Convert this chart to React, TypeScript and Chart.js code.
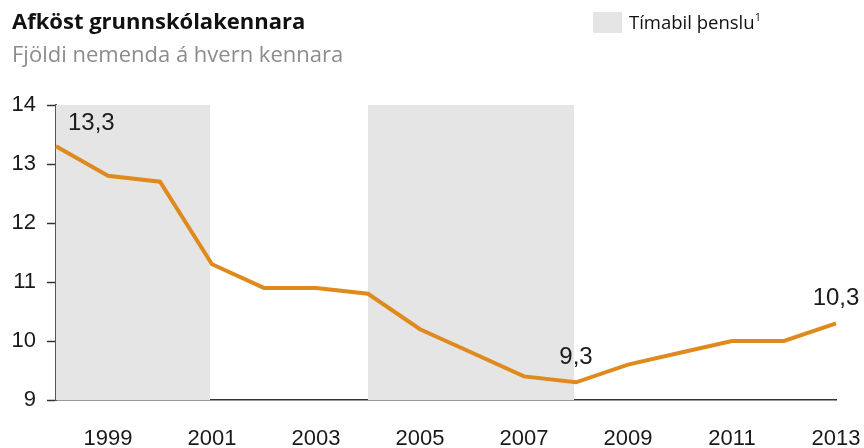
import React, { useEffect, useRef } from "react";
import { Chart, registerables } from "chart.js";

Chart.register(...registerables);

const years = ["1998","1999","2000","2001","2002","2003","2004","2005","2006","2007","2008","2009","2010","2011","2012","2013"];
const ratio = [13.3, 12.8, 12.7, 11.3, 10.9, 10.9, 10.8, 10.2, 9.8, 9.4, 9.3, 9.6, 9.8, 10.0, 10.0, 10.3];
const boomPeriods: [string, string][] = [["1998", "2001"], ["2004", "2008"]];
const labelledPoints = ["1998", "2008", "2013"];
const yTicks = [9, 10, 11, 12, 13, 14];

const TITLE = "Afköst grunnskólakennara";
const SUBTITLE = "Fjöldi nemenda á hvern kennara";
const LEGEND = "Tímabil þenslu";

const fmt = (v: number) => v.toFixed(1).replace(".", ",");
const NUM_FONT = "'Liberation Sans', Arial, sans-serif";

const bandsPlugin = {
  id: "bands",
  beforeDatasetsDraw(chart: any) {
    const { ctx, chartArea, scales } = chart;
    ctx.save();
    ctx.fillStyle = "#e5e5e5";
    boomPeriods.forEach(([a, b]) => {
      const x1 = scales.x.getPixelForValue(years.indexOf(a));
      const x2 = scales.x.getPixelForValue(years.indexOf(b)) - 2;
      ctx.fillRect(x1, chartArea.top, x2 - x1, chartArea.bottom - chartArea.top);
    });
    ctx.restore();
  },
};

const labelsPlugin = {
  id: "pointLabels",
  afterDatasetsDraw(chart: any) {
    const { ctx } = chart;
    const meta = chart.getDatasetMeta(0);
    ctx.save();
    ctx.font = `24px ${NUM_FONT}`;
    ctx.fillStyle = "#1a1a1a";
    ctx.textBaseline = "middle";
    labelledPoints.forEach((yr, k) => {
      const i = years.indexOf(yr);
      const el = meta.data[i];
      const text = fmt(ratio[i]);
      if (k === 0) {
        ctx.textAlign = "left";
        ctx.fillText(text, el.x + 12, el.y - 23);
      } else {
        ctx.textAlign = "center";
        ctx.fillText(text, el.x, el.y - 25);
      }
    });
    ctx.restore();
  },
};

export default function App() {
  const ref = useRef<HTMLCanvasElement | null>(null);
  useEffect(() => {
    if (!ref.current) return;
    const chart = new Chart(ref.current, {
      type: "line",
      data: {
        labels: years,
        datasets: [
          {
            data: ratio,
            borderColor: "#df8a1d",
            borderWidth: 4,
            pointRadius: 0,
            tension: 0,
            fill: false,
            borderJoinStyle: "miter",
          } as any,
        ],
      },
      options: {
        responsive: false,
        animation: false,
        maintainAspectRatio: false,
        layout: { padding: { top: 105, right: 28, left: 0, bottom: 0 } },
        plugins: { legend: { display: false }, tooltip: { enabled: false } },
        scales: {
          x: {
            type: "category",
            offset: false,
            grid: { display: false, drawTicks: false },
            border: { display: true, color: "#333", width: 1.5 },
            ticks: {
              autoSkip: false,
              maxRotation: 0,
              padding: 26,
              color: "#1a1a1a",
              font: { family: NUM_FONT, size: 22 },
              callback: (_v: any, i: number) => (Number(years[i]) % 2 === 1 ? years[i] : ""),
            },
            afterFit: (s: any) => { s.height = 48; s.paddingLeft = 0; s.paddingRight = 0; },
          },
          y: {
            min: 9,
            max: 14,
            grid: { drawOnChartArea: false, drawTicks: true, tickLength: 9, color: "#333", tickWidth: 1.5 } as any,
            border: { display: true, color: "#555", width: 2 },
            afterBuildTicks: (s: any) => { s.ticks = yTicks.map((v) => ({ value: v })); },
            ticks: {
              padding: 11,
              color: "#1a1a1a",
              font: { family: NUM_FONT, size: 22 },
            },
            afterFit: (s: any) => { s.width = 56; s.paddingTop = 0; s.paddingBottom = 0; },
          },
        },
      },
      plugins: [bandsPlugin, labelsPlugin],
    });
    return () => chart.destroy();
  }, []);

  return (
    <div style={{ position: "fixed", left: 0, top: 0, width: 864, height: 448, background: "#fff", overflow: "hidden" }}>
      <canvas ref={ref} width={864} height={448} style={{ position: "absolute", left: 0, top: 0, width: 864, height: 448 }} />
      <div style={{ position: "absolute", left: 12, top: 6, fontFamily: "'Open Sans', sans-serif", fontWeight: 700, fontSize: 22, color: "#111", lineHeight: 1.362, whiteSpace: "nowrap" }}>{TITLE}</div>
      <div style={{ position: "absolute", left: 12, top: 39, fontFamily: "'Open Sans', sans-serif", fontSize: 22, color: "#8c8c8c", lineHeight: 1.362, whiteSpace: "nowrap" }}>{SUBTITLE}</div>
      <div style={{ position: "absolute", left: 593, top: 12, width: 29, height: 21, background: "#e5e5e5" }} />
      <div style={{ position: "absolute", left: 629, top: 9, fontFamily: "'Open Sans', sans-serif", fontSize: 18.5, color: "#111", lineHeight: 1.362, whiteSpace: "nowrap" }}>
        {LEGEND}<sup style={{ fontSize: 11, verticalAlign: "top", lineHeight: "16px" }}>1</sup>
      </div>
    </div>
  );
}
